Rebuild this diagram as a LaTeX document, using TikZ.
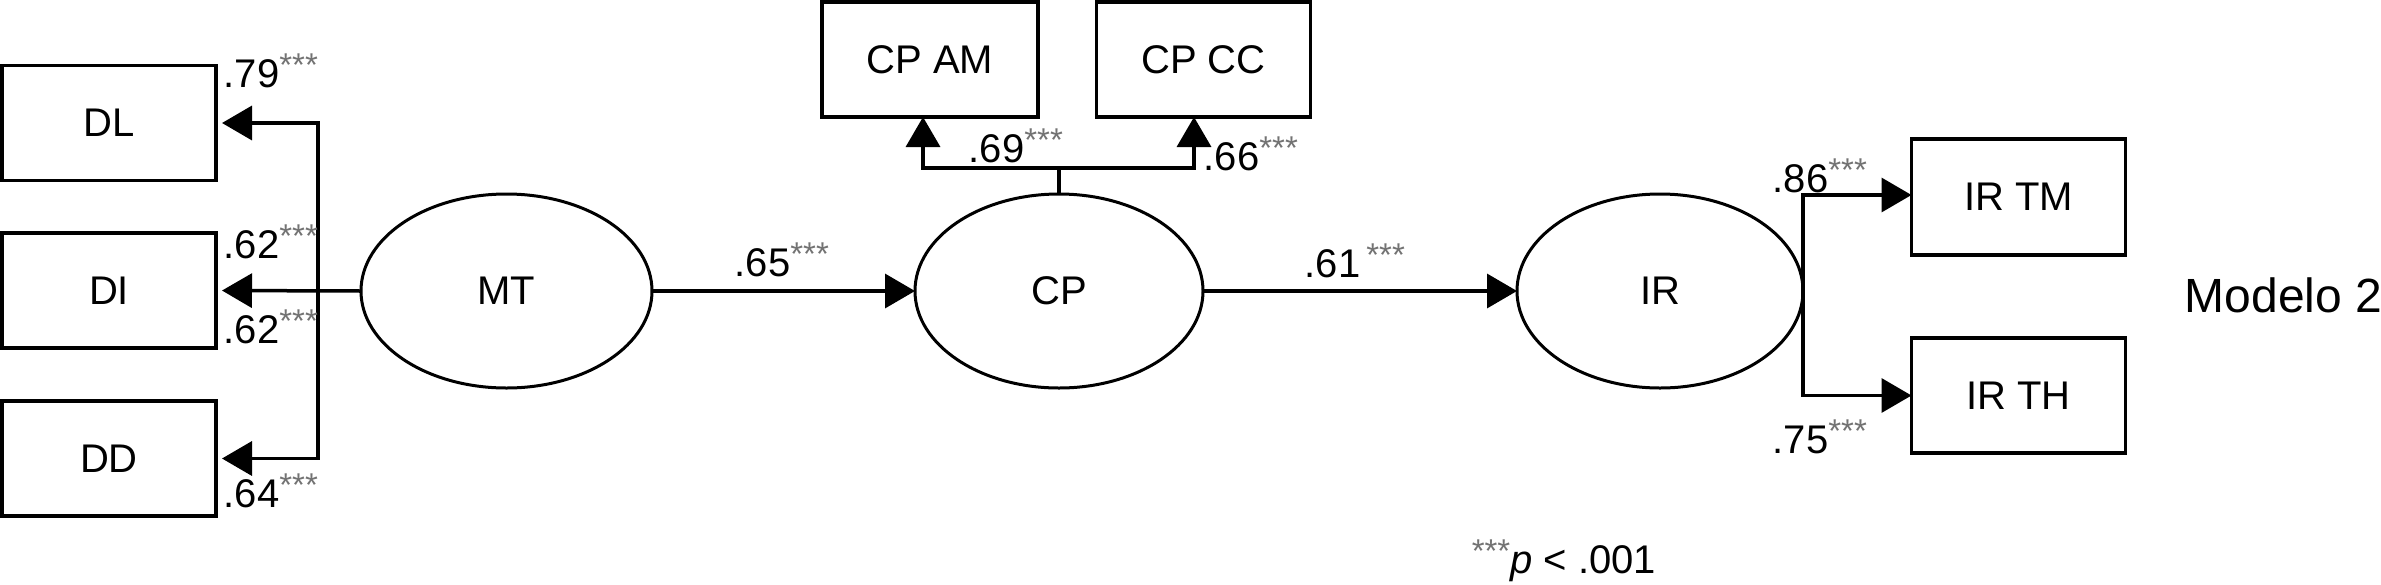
\documentclass[tikz,border=0pt]{standalone}
\usepackage{fontspec}
\setmainfont{Liberation Sans}
\usetikzlibrary{arrows.meta,shapes.geometric}
\newcommand\sigstars{\raisebox{11pt}{\fontsize{33}{33}\selectfont\color{black!55}***}}
\begin{document}
\begin{tikzpicture}[x=1pt,y=-1pt,
  line width=3.5pt,
  box/.style={draw, rectangle, minimum width=214pt, minimum height=115pt, inner sep=0pt, outer sep=0pt, font=\fontsize{40}{48}\selectfont},
  lat/.style={draw, ellipse, minimum width=288pt, minimum height=194pt, inner sep=0pt, outer sep=0pt, line width=3pt, font=\fontsize{40}{48}\selectfont},
  coef/.style={anchor=base west, inner sep=0pt, font=\fontsize{40}{48}\selectfont},
  arr/.style={-{Triangle[length=30pt,width=34pt]}},
  link/.style={line join=miter},
]
\useasboundingbox (0,0) rectangle (2381,584);

% observed indicators
\node[box] (DL) at (109,123) {DL};
\node[box] (DI) at (109,290.5) {DI};
\node[box] (DD) at (109,458.5) {DD};
\node[box, minimum width=216pt] (CPAM) at (930,59.5) {CP AM};
\node[box] (CPCC) at (1203.5,59.5) {CP CC};
\node[box, minimum height=116pt] (IRTM) at (2018.5,197) {IR TM};
\node[box] (IRTH) at (2018.5,395.5) {IR TH};

% latent variables
\node[lat, minimum width=291pt] (MT) at (506.5,291) {MT};
\node[lat] (CP) at (1059,291) {CP};
\node[lat, minimum width=286pt] (IR) at (1660,291) {IR};

% left block
\coordinate (jl) at (318,291);
\draw[arr, link, shorten >=6pt] (MT.west) -- (DI.east);
\draw[arr, link, shorten >=6pt] (jl) |- (DL.east);
\draw[arr, link, shorten >=6pt] (jl) |- (DD.east);

% structural paths
\draw[arr] (MT.east) -- (CP.west);
\draw[arr] (CP.east) -- (IR.west);

% CP indicators
\coordinate (bar) at (1059,168);
\draw (CP.north) -- (bar);
\draw[arr, link] (bar) -| ([xshift=-7pt]CPAM.south);
\draw[arr, link] (bar) -| ([xshift=-9.5pt]CPCC.south);

% IR indicators
\draw[arr, link] (IR.east) |- ([yshift=2pt]IRTM.west);
\draw[arr, link] (IR.east) |- (IRTH.west);

% coefficients
\node[coef] (c79) at (222,87) {.79\sigstars};
\node[coef] (c62a) at (222,258) {.62\sigstars};
\node[coef] (c62b) at (222,343) {.62\sigstars};
\node[coef] (c64) at (222,507) {.64\sigstars};
\node[coef] (c65) at (733,276) {.65\sigstars};
\node[coef] (c61) at (1303,277) {.61\kern6pt\sigstars};
\node[coef] (c69) at (967,162) {.69\sigstars};
\node[coef] (c66) at (1202,170) {.66\sigstars};
\node[coef] (c86) at (1771,192) {.86\sigstars};
\node[coef] (c75) at (1771,453) {.75\sigstars};

% model title and note
\node[anchor=base west, inner sep=0pt, font=\fontsize{48}{56}\selectfont] (model) at (2183,312) {Modelo 2};
\node[coef] (note) at (1470,573) {\sigstars\textit{p} < .001};
\end{tikzpicture}
\end{document}
